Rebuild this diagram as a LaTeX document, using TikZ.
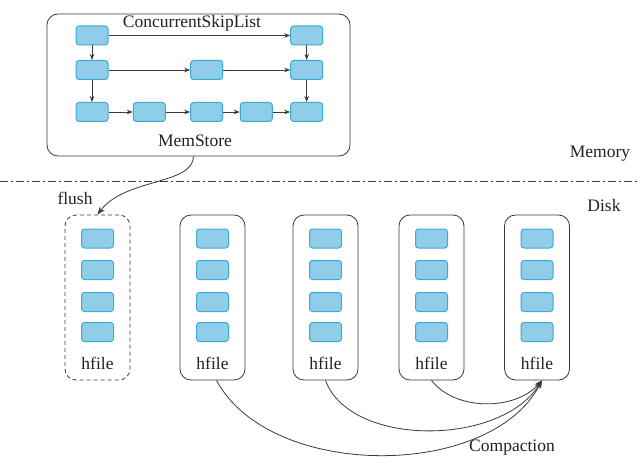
\documentclass[tikz,border=0pt]{standalone}
\usepackage{fontspec}
\setmainfont{Liberation Serif}
\usetikzlibrary{arrows.meta}
\definecolor{nodefill}{HTML}{90CDE8}
\definecolor{nodeedge}{HTML}{3AAAD6}
\definecolor{linegray}{HTML}{3A3A3A}
\definecolor{txt}{HTML}{222222}
\tikzset{
  cell/.style={rectangle, rounded corners=3pt, minimum width=32pt, minimum height=19pt, inner sep=0pt, fill=nodefill, draw=nodeedge, line width=1pt},
  hbox/.style={rectangle, rounded corners=11pt, minimum width=65pt, minimum height=165pt, inner sep=0pt, draw=linegray, line width=0.8pt, fill=white},
  lbl/.style={text=txt, font=\fontsize{17.5}{20}\selectfont, inner sep=0pt},
  sarrow/.style={draw=linegray, line width=0.8pt, -{Stealth[length=6pt,width=4.5pt]}},
  carrow/.style={draw=linegray, line width=0.8pt, -{Stealth[length=8pt,width=6pt]}},
}
\begin{document}
\begin{tikzpicture}[x=1pt,y=-1pt]
\useasboundingbox (0,0) rectangle (640,476);
\fill[white] (0,0) rectangle (640,476);

% MemStore box
\node[rectangle, rounded corners=11pt, minimum width=303pt, minimum height=142pt, inner sep=0pt, draw=linegray, line width=0.8pt] (mem) at (198.5,85) {};
\node[lbl] (csl) at (192,23) {ConcurrentSkipList};
\node[lbl] (ms) at (195,141) {MemStore};

% skip list cells
\node[cell] (a1) at (92,35.5) {};
\node[cell] (a5) at (306.7,35.5) {};
\node[cell] (b1) at (92,70) {};
\node[cell] (b3) at (206.7,70) {};
\node[cell] (b5) at (306.7,70) {};
\node[cell] (c1) at (92,112) {};
\node[cell] (c2) at (149.3,112) {};
\node[cell] (c3) at (206.7,112) {};
\node[cell] (c4) at (256.3,112) {};
\node[cell] (c5) at (306.7,112) {};

\draw[sarrow] (a1) -- (a5);
\draw[sarrow] (a1) -- (b1);
\draw[sarrow] (a5) -- (b5);
\draw[sarrow] (b1) -- (b3);
\draw[sarrow] (b3) -- (b5);
\draw[sarrow] (b1) -- (c1);
\draw[sarrow] (b5) -- (c5);
\draw[sarrow] (c1) -- (c2);
\draw[sarrow] (c2) -- (c3);
\draw[sarrow] (c3) -- (c4);
\draw[sarrow] (c4) -- (c5);

% Memory / Disk separator
\coordinate (sepL) at (0,181.7);
\coordinate (sepR) at (640,181.7);
\draw[draw=linegray, line width=0.8pt, dash pattern=on 8pt off 3pt on 2pt off 3pt] (sepL) -- (sepR);
\node[lbl] (memory) at (600,154) {Memory};
\node[lbl] (disk) at (604,206) {Disk};

% hfile boxes
\node[hbox, dashed, dash pattern=on 4pt off 3pt] (h0) at (97.5,297.5) {};
\node[hbox] (h1) at (212.5,297.5) {};
\node[hbox] (h2) at (325.5,297.5) {};
\node[hbox] (h3) at (431.5,297.5) {};
\node[hbox] (h4) at (537,297.5) {};

\foreach \i/\x in {0/97.5,1/212.5,2/325.5,3/431.5,4/537}{
  \node[cell] (h\i a) at (\x,238.5) {};
  \node[cell] (h\i b) at (\x,270) {};
  \node[cell] (h\i c) at (\x,302) {};
  \node[cell] (h\i d) at (\x,332) {};
  \node[lbl] (h\i t) at (\x,363) {hfile};
}

\node[lbl] (flush) at (75,198) {flush};
\node[lbl] (comp) at (512,448) {Compaction};

% flush arrow
\draw[carrow] ([xshift=-5pt]mem.south) .. controls (193,185) and (125,178) .. (h0.north);

% compaction arrows
\draw[carrow] ([xshift=4pt]h1.south) .. controls (270,480) and (490,480) .. ([xshift=5pt]h4.south);
\draw[carrow] (h2.south) .. controls (350,447) and (500,447) .. ([xshift=5pt]h4.south);
\draw[carrow] (h3.south) .. controls (455,411) and (515,411) .. ([xshift=5pt]h4.south);
\end{tikzpicture}
\end{document}
